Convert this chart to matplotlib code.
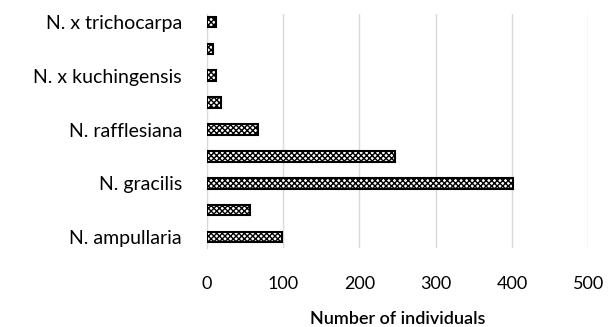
import matplotlib
matplotlib.use("Agg")
import matplotlib.pyplot as plt
import numpy as np

plt.rcParams['hatch.linewidth'] = 1.0
plt.rcParams['hatch.color'] = 'black'

species = ["N. ampullaria", "", "N. gracilis", "", "N. rafflesiana", "",
           "N. x kuchingensis", "", "N. x trichocarpa"]
counts = [98, 57, 401, 246, 67, 18, 12, 8, 12]
xticks = [0, 100, 200, 300, 400, 500]

fig = plt.figure(figsize=(6.14, 3.27), dpi=100)
ax = fig.add_axes([0.337, 0.2416, 0.621, 0.7156])

font = ['Lato', 'DejaVu Sans']
y = np.arange(len(species))
ax.barh(y, counts, height=0.4, color='white', edgecolor='black',
        hatch='xxxxxx', linewidth=1.5, zorder=3)

ax.set_xlim(0, 500)
ax.set_ylim(-0.41, len(species) - 0.7)
ax.set_xticks(xticks)
ax.set_xticklabels([str(t) for t in xticks], family=font, fontsize=13)
ax.set_yticks(y)
ax.set_yticklabels(species, family=font, fontsize=14)
ax.tick_params(axis='x', length=0, pad=20)
ax.tick_params(axis='y', length=0, pad=18)
ax.grid(axis='x', color='#d9d9d9', linewidth=1, zorder=0)
for s in ['top', 'right', 'bottom']:
    ax.spines[s].set_visible(False)
ax.spines['left'].set_color('#d9d9d9')
ax.set_xlabel("Number of individuals", family=font, fontsize=13,
              fontweight='semibold', labelpad=14)

fig.savefig("out.png", dpi=100)
